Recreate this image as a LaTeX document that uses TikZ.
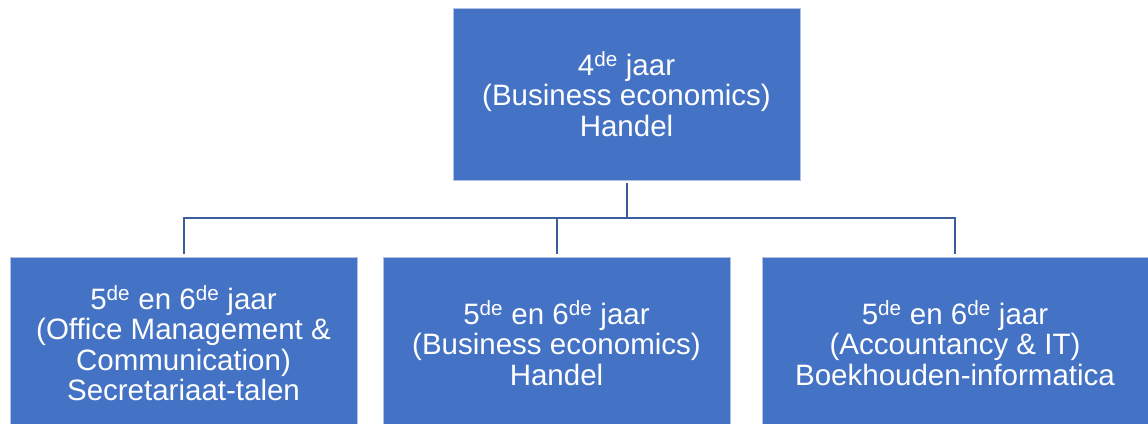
\documentclass[tikz,border=0pt]{standalone}
\usepackage{fontspec}
\setmainfont{Liberation Sans}
\definecolor{boxblue}{HTML}{4472C4}
\definecolor{boxedge}{HTML}{AFC2E6}
\definecolor{linkblue}{HTML}{3A5D9C}
\newcommand\boxtextstyle{\fontsize{29.5}{30.5}\selectfont\color{white}}
\newcommand\de{\textsuperscript{de}}
\tikzset{
  orgbox/.style={draw=boxedge, line width=1pt, fill=boxblue, minimum height=172pt,
    align=center, inner sep=0pt, outer sep=3pt, font=\boxtextstyle},
  orglink/.style={draw=linkblue, line width=2pt}
}
\begin{document}
\begin{tikzpicture}[x=1pt, y=-1pt]
    \useasboundingbox (0,0) rectangle (1148,423);
    \clip (0,0) rectangle (1148,423);
    % top level
    \node[orgbox, minimum width=347pt] (jaar4) at (626.5,94) {4\de{} jaar\\(Business economics)\\Handel};
    % second level
    \node[orgbox, minimum width=347pt] (secr) at (183.5,343) {5\de{} en 6\de{} jaar\\(Office Management \&\\Communication)\\Secretariaat-talen};
    \node[orgbox, minimum width=347pt] (handel) at (556.5,343) {5\de{} en 6\de{} jaar\\(Business economics)\\Handel};
    \node[orgbox, minimum width=386pt] (boek) at (955,343) {5\de{} en 6\de{} jaar\\(Accountancy \& IT)\\Boekhouden-informatica};
    \coordinate (bus) at (626.5,218);
    % connectors
    \draw[orglink] (jaar4.south) -- (jaar4.south |- bus);
    \draw[orglink] (secr.north) |- (boek.north |- bus) -- (boek.north);
    \draw[orglink] (handel.north) -- (handel.north |- bus);
\end{tikzpicture}
\end{document}
